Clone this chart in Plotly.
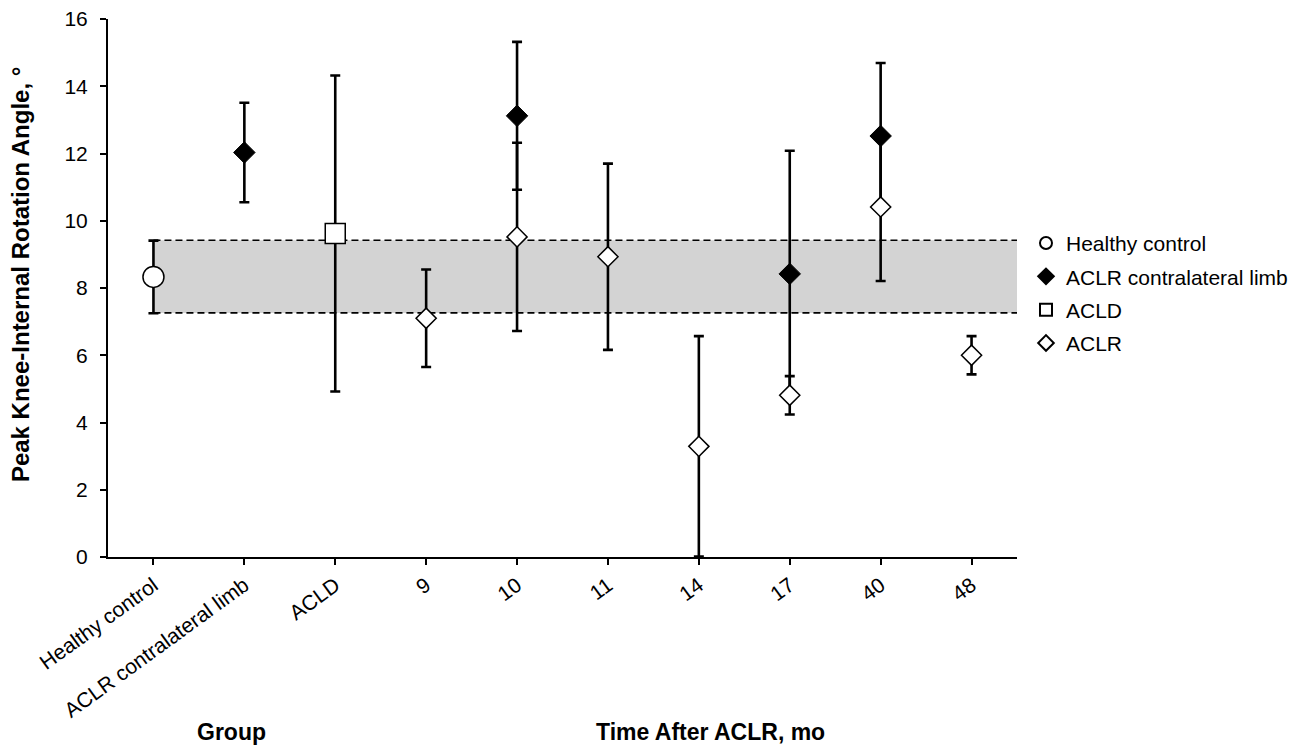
import plotly.graph_objects as go

categories = ["Healthy control", "ACLR contralateral limb", "ACLD", "9", "10", "11", "14", "17", "40", "48"]

healthy_x = ["Healthy control"]
healthy_y = [8.33]
healthy_err = [1.08]

contra_x = ["ACLR contralateral limb", "10", "17", "40"]
contra_y = [12.03, 13.12, 8.42, 12.52]
contra_err = [1.48, 2.2, 3.66, 2.17]

acld_x = ["ACLD"]
acld_y = [9.62]
acld_err_plus = [4.7]
acld_err_minus = [4.7]

aclr_x = ["9", "10", "11", "14", "17", "40", "48"]
aclr_y = [7.1, 9.52, 8.93, 3.29, 4.81, 10.41, 6.0]
aclr_err = [1.45, 2.8, 2.77, 3.28, 0.57, 2.2, 0.57]

band_low = 7.26
band_high = 9.42

FONT = "Liberation Sans, Arial, sans-serif"

def err(vals, minus=None):
    d = dict(type="data", array=vals, visible=True, color="black", thickness=2.6, width=5)
    if minus is not None:
        d["arrayminus"] = minus
        d["symmetric"] = False
    return d

fig = go.Figure()

fig.add_trace(go.Scatter(
    x=healthy_x, y=healthy_y, mode="markers", name="Healthy control",
    legendgroup="a",
    marker=dict(symbol="circle", size=21, color="white", line=dict(color="black", width=1.5)),
    error_y=err(healthy_err)))
fig.add_trace(go.Scatter(
    x=contra_x, y=contra_y, mode="markers", name="ACLR contralateral limb",
    legendgroup="b",
    marker=dict(symbol="diamond", size=16.5, color="black", line=dict(color="black", width=1)),
    error_y=err(contra_err)))
fig.add_trace(go.Scatter(
    x=acld_x, y=acld_y, mode="markers", name="ACLD",
    legendgroup="c",
    marker=dict(symbol="square", size=20, color="white", line=dict(color="black", width=1.5)),
    error_y=err(acld_err_plus, acld_err_minus)))
fig.add_trace(go.Scatter(
    x=aclr_x, y=aclr_y, mode="markers", name="ACLR",
    legendgroup="d",
    marker=dict(symbol="diamond", size=15.5, color="white", line=dict(color="black", width=1.5)),
    error_y=err(aclr_err)))

# shaded band of healthy control range
fig.add_shape(type="rect", xref="x", yref="y", x0=0, x1=9.5, y0=band_low, y1=band_high,
              fillcolor="#d3d3d3", line=dict(width=0), layer="below")
for yv in (band_low, band_high):
    fig.add_shape(type="line", xref="x", yref="y", x0=0, x1=9.5, y0=yv, y1=yv,
                  line=dict(color="black", width=1.6, dash="7px,4px"), layer="below")

fig.add_annotation(text="<b>Group</b>", xref="paper", yref="paper", x=0.136, y=-0.325,
                   xanchor="center", yanchor="middle",
                   showarrow=False, font=dict(size=23, family=FONT, color="black"))
fig.add_annotation(text="<b>Time After ACLR, mo</b>", xref="paper", yref="paper", x=0.663, y=-0.325,
                   xanchor="center", yanchor="middle",
                   showarrow=False, font=dict(size=23, family=FONT, color="black"))
fig.add_annotation(text="<b>Peak Knee-Internal Rotation Angle, °</b>", xref="paper", yref="paper",
                   x=-0.0968, y=0.524, xanchor="center", yanchor="middle", textangle=-90,
                   showarrow=False, font=dict(size=24, family=FONT, color="black"))

fig.update_layout(
    width=1303, height=749,
    margin=dict(l=108, r=286, t=19, b=192, autoexpand=False),
    plot_bgcolor="white", paper_bgcolor="white",
    font=dict(family=FONT, size=20, color="black"),
    showlegend=True,
    legend=dict(x=1.0099, y=0.621, xanchor="left", yanchor="top",
                font=dict(size=21, family=FONT, color="black"),
                itemsizing="constant", traceorder="grouped", tracegroupgap=3,
                itemwidth=30, bgcolor="rgba(0,0,0,0)"),
    xaxis=dict(type="category", categoryorder="array", categoryarray=categories,
               range=[-0.5, 9.5], showgrid=False, zeroline=False,
               showline=True, linecolor="black", linewidth=2,
               ticks="outside", ticklen=6, tickwidth=1.5, tickcolor="black",
               tickangle=-36, tickfont=dict(size=21, family=FONT, color="black")),
    yaxis=dict(range=[0, 16], dtick=2, showgrid=False, zeroline=False,
               showline=True, linecolor="black", linewidth=2,
               ticks="outside", ticklen=6, tickwidth=1.5, tickcolor="black",
               ticklabelstandoff=8,
               tickfont=dict(size=21, family=FONT, color="black")),
)

fig.write_html("out.html")
